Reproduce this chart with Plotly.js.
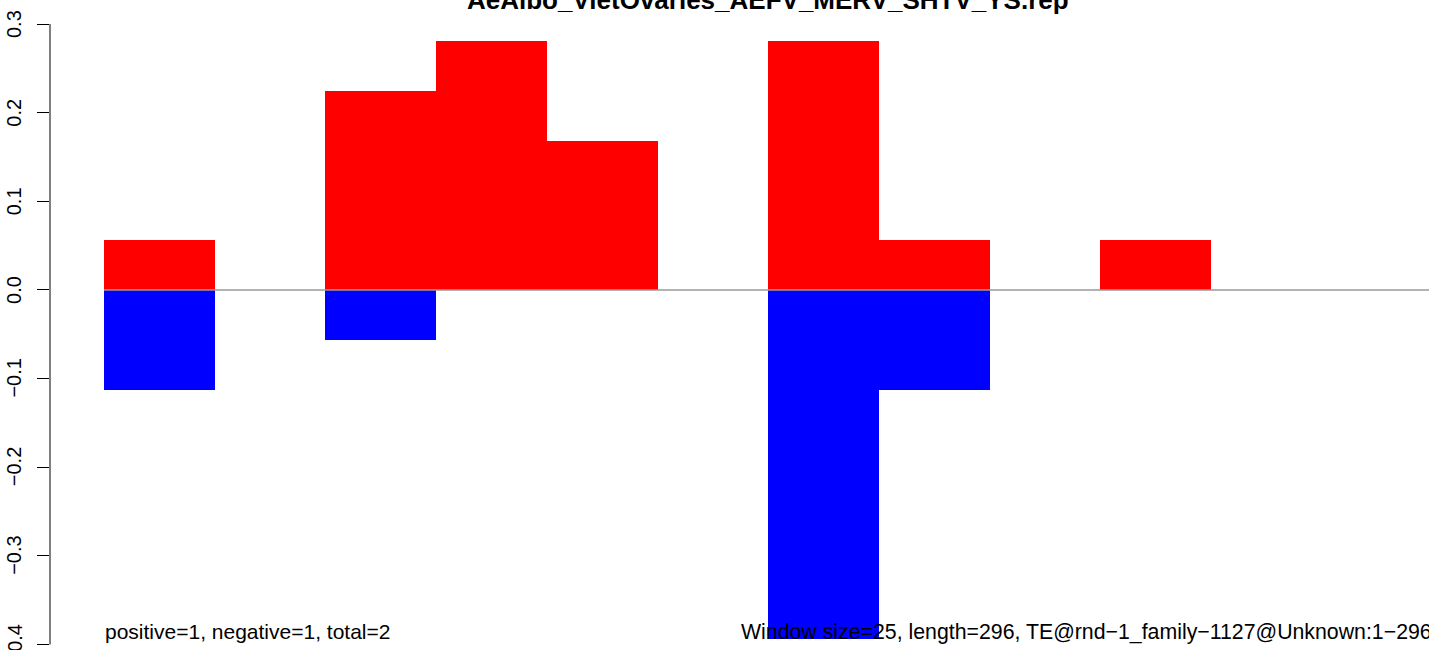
<!DOCTYPE html>
<html>
<head>
<meta charset="utf-8">
<script src="https://cdn.plot.ly/plotly-3.0.1.min.js"></script>
<style>html,body{margin:0;padding:0;background:#fff;}#chart{width:1429px;height:650px;}</style>
</head>
<body>
<div id="chart"></div>
<script>
// Window start positions (bp), window size 25, TE length 296
const windowStarts = [0, 25, 50, 75, 100, 125, 150, 175, 200, 225, 250, 275];
const windowSize = 25;
const positiveValues = [0.0562, 0, 0.2247, 0.2809, 0.1685, 0, 0.2809, 0.0562, 0, 0.0562, 0, 0];
const negativeValues = [-0.1124, 0, -0.0562, 0, 0, 0, -0.3933, -0.1124, 0, 0, 0, 0];
const yTickVals = [0.3, 0.2, 0.1, 0.0, -0.1, -0.2, -0.3, -0.4];
const yTickText = ["0.3", "0.2", "0.1", "0.0", "\u22120.1", "\u22120.2", "\u22120.3", "\u22120.4"];
const titleText = "AeAlbo_VietOvaries_AEFV_MERV_SHTV_YS.rep";
const leftNote = "positive=1, negative=1, total=2";
const rightNote = "Window size=25, length=296, TE@rnd\u22121_family\u22121127@Unknown:1\u2212296";

const centers = windowStarts.map(s => s + windowSize / 2);
const font = "Liberation Sans, Arial, Helvetica, sans-serif";

const traces = [
  {
    type: "scatter", mode: "lines",
    x: [0, 400], y: [0, 0],
    line: {color: "#9a9a9a", width: 1.5},
    hoverinfo: "skip", showlegend: false
  },
  {
    type: "bar", x: centers, y: positiveValues, width: windowSize,
    marker: {color: "#ff0000", line: {width: 0}}, showlegend: false
  },
  {
    type: "bar", x: centers, y: negativeValues, width: windowSize,
    marker: {color: "#0000ff", line: {width: 0}}, showlegend: false
  }
];

const tickAnnotations = yTickVals.map((v, i) => ({
  text: yTickText[i], xref: "paper", yref: "y", x: 0, y: v,
  xanchor: "center", yanchor: "middle", xshift: -36, textangle: -90,
  showarrow: false, borderpad: 0,
  font: {family: font, size: 20, color: "#000000"}
}));

const layout = {
  width: 1429, height: 650,
  margin: {l: 50, r: 0, t: 0, b: 0, pad: 0},
  paper_bgcolor: "#ffffff", plot_bgcolor: "#ffffff",
  barmode: "overlay", bargap: 0,
  showlegend: false,
  font: {family: font, color: "#000000", size: 20},
  xaxis: {
    range: [-12.2, 299.2], visible: false, showgrid: false, zeroline: false
  },
  yaxis: {
    range: [-0.4062, 0.32708],
    showgrid: false, zeroline: false, showline: false,
    tickmode: "array", tickvals: yTickVals, showticklabels: false,
    ticks: "outside", ticklen: 12, tickwidth: 1, tickcolor: "#000000"
  },
  shapes: [
    {type: "line", xref: "paper", yref: "y", x0: 0, x1: 0, y0: -0.4, y1: 0.3,
     line: {color: "#000000", width: 1}}
  ],
  annotations: [
    {text: "<b>" + titleText + "</b>", xref: "x", yref: "paper", x: 150, y: 1 - 16/650,
     xanchor: "center", yanchor: "bottom", showarrow: false, borderpad: 0,
     font: {family: font, size: 26, color: "#000000"}},
    {text: leftNote, xref: "x", yref: "y", x: 0, y: -0.3858,
     xanchor: "left", yanchor: "middle", showarrow: false, borderpad: 0,
     font: {family: font, size: 21, color: "#000000"}},
    {text: rightNote, xref: "x", yref: "y", x: 143.6, y: -0.3858,
     xanchor: "left", yanchor: "middle", showarrow: false, borderpad: 0,
     font: {family: font, size: 21.3, color: "#000000"}}
  ].concat(tickAnnotations)
};

Plotly.newPlot("chart", traces, layout, {displayModeBar: false, staticPlot: true});
</script>
</body>
</html>
